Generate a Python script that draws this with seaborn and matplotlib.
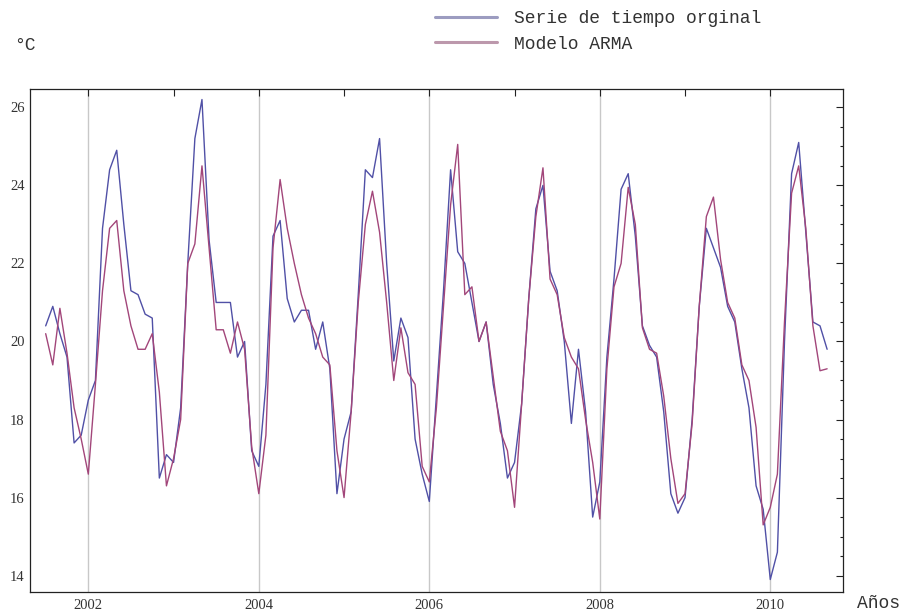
import numpy as np
import pandas as pd
import matplotlib
matplotlib.use("Agg")
import matplotlib.pyplot as plt
import seaborn as sns
from matplotlib.ticker import MultipleLocator, FixedLocator, FixedFormatter
from matplotlib.lines import Line2D

# ---------------- data (monthly, Jul 2001 .. Sep 2010) ----------------
start_year = 2001
start_month = 7

original = [
    20.4, 20.9, 20.2, 19.6, 17.4, 17.6, 18.5, 19.0, 22.9, 24.4,
    24.9, 23.0, 21.3, 21.2, 20.7, 20.6, 16.5, 17.1, 16.9, 18.3,
    22.0, 25.2, 26.2, 22.6, 21.0, 21.0, 21.0, 19.6, 20.0, 17.2,
    16.8, 18.9, 22.7, 23.1, 21.1, 20.5, 20.8, 20.8, 19.8, 20.5,
    19.3, 16.1, 17.5, 18.2, 21.2, 24.4, 24.2, 25.2, 22.0, 19.5,
    20.6, 20.1, 17.5, 16.6, 15.9, 18.6, 21.3, 24.4, 22.3, 22.0,
    21.0, 20.0, 20.5, 18.9, 17.9, 16.5, 16.9, 18.4, 21.1, 23.4,
    24.0, 21.8, 21.3, 20.0, 17.9, 19.8, 18.2, 15.5, 16.4, 19.6,
    21.6, 23.9, 24.3, 22.7, 20.4, 19.9, 19.6, 18.2, 16.1, 15.6,
    16.0, 18.0, 20.9, 22.9, 22.4, 21.9, 20.9, 20.5, 19.3, 18.3,
    16.3, 15.7, 13.9, 14.6, 20.0, 24.3, 25.1, 22.8, 20.5, 20.4,
    19.8,
]
arma = [
    20.2, 19.4, 20.85, 19.7, 18.3, 17.5, 16.6, 18.9, 21.3, 22.9,
    23.1, 21.3, 20.4, 19.8, 19.8, 20.2, 18.7, 16.3, 17.0, 18.0,
    22.0, 22.5, 24.5, 22.4, 20.3, 20.3, 19.7, 20.5, 19.8, 17.3,
    16.1, 17.6, 22.4, 24.15, 22.9, 22.0, 21.2, 20.6, 20.2, 19.6,
    19.4, 17.2, 16.0, 18.2, 21.0, 23.0, 23.85, 22.8, 21.0, 19.0,
    20.35, 19.2, 18.9, 16.8, 16.4, 18.3, 20.9, 23.5, 25.05, 21.2,
    21.4, 20.0, 20.5, 19.1, 17.7, 17.2, 15.75, 18.4, 21.1, 23.2,
    24.45, 21.6, 21.2, 20.1, 19.6, 19.3, 18.0, 16.9, 15.45, 19.3,
    21.4, 22.0, 23.95, 23.0, 20.35, 19.8, 19.7, 18.6, 17.0, 15.85,
    16.1, 17.9, 20.9, 23.2, 23.7, 22.1, 21.0, 20.6, 19.4, 19.0,
    17.8, 15.3, 15.75, 16.6, 20.5, 23.8, 24.5, 22.9, 20.4, 19.25,
    19.3,
]
series_labels = ["Serie de tiempo orginal", "Modelo ARMA"]
year_ticks = [2002, 2003, 2004, 2005, 2006, 2007, 2008, 2009, 2010]
year_labels = ["2002", "", "2004", "", "2006", "", "2008", "", "2010"]
grid_years = [2002, 2004, 2006, 2008, 2010]
temp_ticks = [14, 16, 18, 20, 22, 24, 26]

# ---------------- build table ----------------
n = len(original)
t = start_year + (start_month - 1) / 12 + np.arange(n) / 12
df = pd.DataFrame({
    "t": np.concatenate([t, t]),
    "temp": np.array(original + arma, dtype=float),
    "serie": [series_labels[0]] * n + [series_labels[1]] * n,
})

blue = "#5050a6"
red = "#a2467a"

sns.set_style("white")
plt.rcParams["font.family"] = ["Liberation Serif", "DejaVu Serif"]

fig = plt.figure(figsize=(9.04, 6.14), dpi=100)
ax = fig.add_axes([30 / 904, 22 / 614, 813 / 904, 503 / 614])

for g in grid_years:
    ax.axvline(g, color="#c8c8c8", lw=1.0, zorder=0)

sns.lineplot(data=df, x="t", y="temp", hue="serie", hue_order=series_labels,
             palette=[blue, red], lw=1.0, ax=ax, legend=False, sort=False)

ax.set_xlim(2001.316, 2010.853)
ax.set_ylim(13.58, 26.47)
ax.set_xlabel("")
ax.set_ylabel("")

ax.xaxis.set_major_locator(FixedLocator(year_ticks))
ax.xaxis.set_major_formatter(FixedFormatter(year_labels))
ax.yaxis.set_major_locator(FixedLocator(temp_ticks))
ax.yaxis.set_minor_locator(MultipleLocator(0.5))
ax.tick_params(which="both", direction="in", top=True, right=True,
               color="#222222", width=0.8)
ax.tick_params(which="major", length=5, labelsize=10.5, labelcolor="#333333")
ax.tick_params(which="minor", length=2.5)
ax.tick_params(axis="x", pad=5)
ax.tick_params(axis="y", pad=4)
for s in ax.spines.values():
    s.set_color("#222222")
    s.set_linewidth(0.9)

mono = {"family": ["Liberation Mono", "DejaVu Sans Mono"], "size": 13,
        "color": "#333333"}

handles = [Line2D([], [], color="#9c9cc0", lw=2.2),
           Line2D([], [], color="#bc98ac", lw=2.2)]
leg = fig.legend(handles, series_labels, loc="upper left",
                 bbox_to_anchor=(435 / 904, 1 - 10 / 614), frameon=False,
                 prop={"family": mono["family"], "size": mono["size"]},
                 handlelength=3.45, handletextpad=0.95, labelspacing=0.48,
                 borderpad=0, borderaxespad=0)
for txt in leg.get_texts():
    txt.set_color("#333333")

fig.text(14 / 904, 1 - 45 / 614, "°C", fontdict=mono, ha="left", va="center")
fig.text(857 / 904, 1 - 603 / 614, "Años", fontdict=mono, ha="left", va="center")

fig.savefig("out.png", dpi=100, facecolor="white")
